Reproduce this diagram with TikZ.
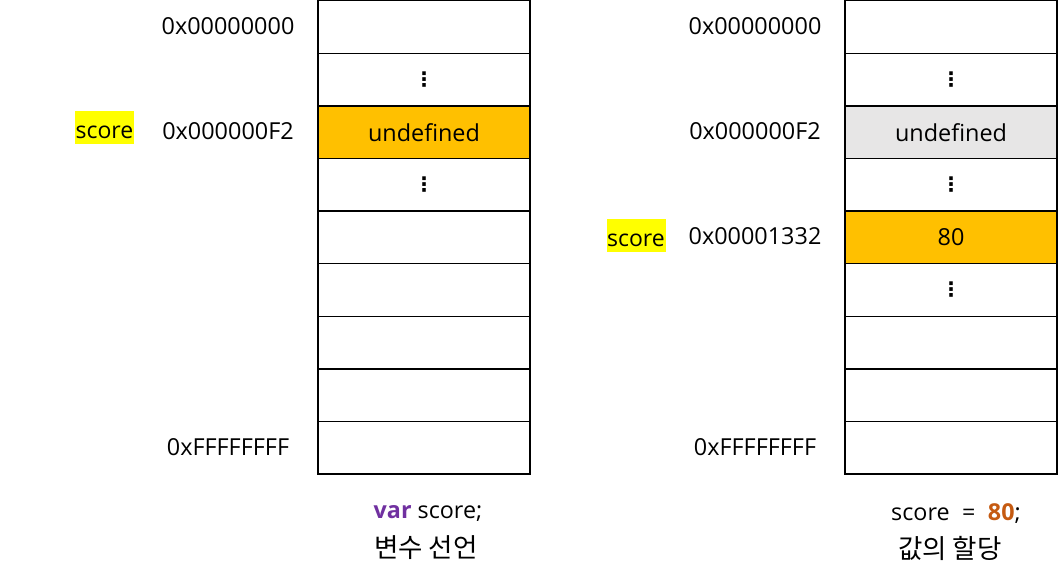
\documentclass[tikz,border=0pt]{standalone}
\usepackage{fontspec}
\setmainfont{Open Sans}
\newfontfamily\kr{Noto Sans CJK KR}
\newfontfamily\dvs{DejaVu Sans}
\definecolor{cellorange}{HTML}{FFC000}
\definecolor{cellgray}{HTML}{E7E6E6}
\definecolor{hlyellow}{HTML}{FFFF00}
\definecolor{kwpurple}{HTML}{7030A0}
\definecolor{numorange}{HTML}{C55A11}
\newcommand{\vdt}{{\dvs\bfseries\fontsize{20}{20}\selectfont ⋮}}
\begin{document}
\begin{tikzpicture}[x=1pt,y=-1pt,
  cell/.style={draw=black, line width=1.3pt, minimum width=212pt, minimum height=52.6pt, inner sep=0pt, outer sep=0pt, font=\fontsize{23.4}{28}\selectfont},
  addr/.style={font=\fontsize{23.4}{28}\selectfont, inner sep=0pt},
  hl/.style={fill=hlyellow, font=\fontsize{23}{28}\selectfont, inner sep=0pt, minimum width=59pt, minimum height=33pt, text height=21pt, text depth=0pt},
  captext/.style={font=\fontsize{23.3}{28}\selectfont, inner sep=0pt},
  krtext/.style={font=\kr\fontsize{26.5}{30}\selectfont, inner sep=0pt}]
\useasboundingbox (0,0) rectangle (1060,581);
% left memory column
\foreach \i/\txt/\f in {1//white,2/\vdt/white,3/undefined/cellorange,4/\vdt/white,5//white,6//white,7//white,8//white,9//white}{
  \node[cell, fill=\f] (L\i) at (424, {0.7+52.6*(\i-0.5)}) {\txt};
}
\foreach \i/\txt/\f in {1//white,2/\vdt/white,3/undefined/cellgray,4/\vdt/white,5/80/cellorange,6/\vdt/white,7//white,8//white,9//white}{
  \node[cell, fill=\f] (R\i) at (951, {0.7+52.6*(\i-0.5)}) {\txt};
}
% addresses left
\node[addr] (la1) at (228, 26) {0x00000000};
\node[addr] (la3) at (228, 131) {0x000000F2};
\node[addr] (la9) at (228, 447) {0xFFFFFFFF};
\node[hl] (ls) at (104.5, 127.5) {score};
% addresses right
\node[addr] (ra1) at (755, 26) {0x00000000};
\node[addr] (ra3) at (755, 131) {0x000000F2};
\node[addr] (ra5) at (755, 236) {0x00001332};
\node[addr] (ra9) at (755, 447) {0xFFFFFFFF};
\node[hl] (rs) at (636, 235.5) {score};
% captions
\node[captext] (lc1) at (428, 514) {\textcolor{kwpurple}{\textbf{var}} score;};
\node[krtext] (lc2) at (426, 548) {변수 선언};
\node[captext] (rc1) at (956, 514) {score \;=\; \textcolor{numorange}{\textbf{80}};};
\node[krtext] (rc2) at (950, 548) {값의 할당};
\end{tikzpicture}
\end{document}
